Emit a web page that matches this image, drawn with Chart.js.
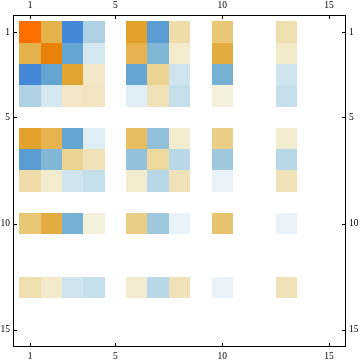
<!DOCTYPE html>
<html><head><meta charset="utf-8">
<script src="https://cdn.jsdelivr.net/npm/chart.js@4/dist/chart.umd.min.js"></script>
<style>html,body{margin:0;padding:0;background:#fff}canvas{display:block}</style>
</head><body>
<canvas id="c" width="360" height="363"></canvas>
<script>
// Tick labels on all four sides
const tickValues = [1, 5, 10, 15];
// Matrix entries (row by row, 15 x 15); 0 = empty cell
const matrix = [
  [ 1.00,  0.53, -1.00, -0.30, 0,  0.62, -0.75,  0.25, 0,  0.42, 0, 0,  0.23, 0, 0],
  [ 0.53,  0.80, -0.66, -0.12, 0,  0.52, -0.50,  0.10, 0,  0.56, 0, 0,  0.11, 0, 0],
  [-1.00, -0.66,  0.60,  0.13, 0, -0.63,  0.33, -0.15, 0, -0.55, 0, 0, -0.15, 0, 0],
  [-0.30, -0.12,  0.13,  0.16, 0, -0.07,  0.20, -0.20, 0,  0.04, 0, 0, -0.20, 0, 0],
  [ 0,     0,     0,     0,    0,  0,     0,     0,    0,  0,    0, 0,  0,    0, 0],
  [ 0.62,  0.52, -0.63, -0.07, 0,  0.47, -0.43,  0.10, 0,  0.37, 0, 0,  0.09, 0, 0],
  [-0.75, -0.50,  0.33,  0.20, 0, -0.43,  0.29, -0.25, 0, -0.37, 0, 0, -0.25, 0, 0],
  [ 0.25,  0.10, -0.15, -0.20, 0,  0.10, -0.25,  0.20, 0, -0.03, 0, 0,  0.20, 0, 0],
  [ 0,     0,     0,     0,    0,  0,     0,     0,    0,  0,    0, 0,  0,    0, 0],
  [ 0.42,  0.56, -0.55,  0.04, 0,  0.37, -0.37, -0.03, 0,  0.44, 0, 0, -0.03, 0, 0],
  [ 0,     0,     0,     0,    0,  0,     0,     0,    0,  0,    0, 0,  0,    0, 0],
  [ 0,     0,     0,     0,    0,  0,     0,     0,    0,  0,    0, 0,  0,    0, 0],
  [ 0.23,  0.11, -0.15, -0.20, 0,  0.09, -0.25,  0.20, 0, -0.03, 0, 0,  0.20, 0, 0],
  [ 0,     0,     0,     0,    0,  0,     0,     0,    0,  0,    0, 0,  0,    0, 0],
  [ 0,     0,     0,     0,    0,  0,     0,     0,    0,  0,    0, 0,  0,    0, 0]
];

// colour scale (style only)
const posStops = [[0,[246,243,228]],[0.2,[240,226,184]],[0.4,[234,203,124]],[0.6,[225,164,49]],[0.8,[232,130,10]],[1,[255,111,0]]];
const negStops = [[0,[238,245,250]],[0.2,[196,223,234]],[0.4,[152,196,221]],[0.6,[104,170,207]],[0.8,[85,152,212]],[1,[68,136,216]]];
function colorFor(v){
  const stops = v >= 0 ? posStops : negStops;
  const t = Math.min(1, Math.abs(v));
  for (let i = 1; i < stops.length; i++) {
    if (t <= stops[i][0]) {
      const a = stops[i-1], b = stops[i];
      const f = (t - a[0]) / (b[0] - a[0]);
      const c = a[1].map((ch, k) => Math.round(ch + (b[1][k] - ch) * f));
      return `rgb(${c[0]},${c[1]},${c[2]})`;
    }
  }
  const l = stops[stops.length-1][1];
  return `rgb(${l[0]},${l[1]},${l[2]})`;
}

const points = [];
matrix.forEach((row, r) => row.forEach((v, c) => {
  if (v !== 0) points.push({x: c + 1, y: r + 1, v: v});
}));

const cellPlugin = {
  id: 'cells',
  beforeDatasetsDraw(chart) {
    const ctx = chart.ctx, xs = chart.scales.x, ys = chart.scales.y;
    ctx.save();
    chart.data.datasets[0].data.forEach(p => {
      const x0 = Math.round(xs.getPixelForValue(p.x - 0.5));
      const x1 = Math.round(xs.getPixelForValue(p.x + 0.5));
      const y0 = Math.round(ys.getPixelForValue(p.y - 0.5));
      const y1 = Math.round(ys.getPixelForValue(p.y + 0.5));
      ctx.fillStyle = colorFor(p.v);
      ctx.fillRect(x0, y0, x1 - x0, y1 - y0);
    });
    ctx.restore();
  },
  afterDraw(chart) {
    const ctx = chart.ctx, a = chart.chartArea;
    const xs = chart.scales.x, ys = chart.scales.y;
    ctx.save();
    ctx.strokeStyle = '#000';
    ctx.lineWidth = 1;
    ctx.strokeRect(a.left + 0.5, a.top + 0.5, a.right - a.left - 1, a.bottom - a.top - 1);
    ctx.beginPath();
    const L = 4;
    tickValues.forEach(v => {
      const px = Math.round(xs.getPixelForValue(v)) + 0.5;
      ctx.moveTo(px, a.top); ctx.lineTo(px, a.top + L);
      ctx.moveTo(px, a.bottom); ctx.lineTo(px, a.bottom - L);
      const py = Math.round(ys.getPixelForValue(v)) + 0.5;
      ctx.moveTo(a.left, py); ctx.lineTo(a.left + L, py);
      ctx.moveTo(a.right, py); ctx.lineTo(a.right - L, py);
    });
    ctx.stroke();
    ctx.restore();
  }
};

const font = {family: "'Liberation Serif', 'DejaVu Serif', serif", size: 9.5};
function axis(pos, size, pad, extra) {
  return Object.assign({
    type: 'linear', position: pos, min: 0.2, max: 15.8,
    grid: {display: false, drawTicks: false, tickLength: 0},
    border: {display: false},
    ticks: {font: font, color: '#000', padding: pad, autoSkip: false, maxRotation: 0, minRotation: 0},
    afterBuildTicks: s => { s.ticks = tickValues.map(v => ({value: v})); },
    afterFit: s => { if (pos === 'top' || pos === 'bottom') s.height = size; else s.width = size; }
  }, extra || {});
}

new Chart(document.getElementById('c'), {
  type: 'scatter',
  data: {datasets: [{data: points, pointRadius: 0, pointHoverRadius: 0, xAxisID: 'x', yAxisID: 'y'}]},
  options: {
    responsive: false, animation: false, devicePixelRatio: 1,
    layout: {padding: 0},
    plugins: {legend: {display: false}, tooltip: {enabled: false}},
    events: [],
    scales: {
      x: axis('bottom', 16, 4),
      x2: axis('top', 15, 4),
      y: axis('left', 13, 3, {reverse: true}),
      y2: axis('right', 14, 3, {reverse: true})
    }
  },
  plugins: [cellPlugin]
});
</script>
</body></html>
